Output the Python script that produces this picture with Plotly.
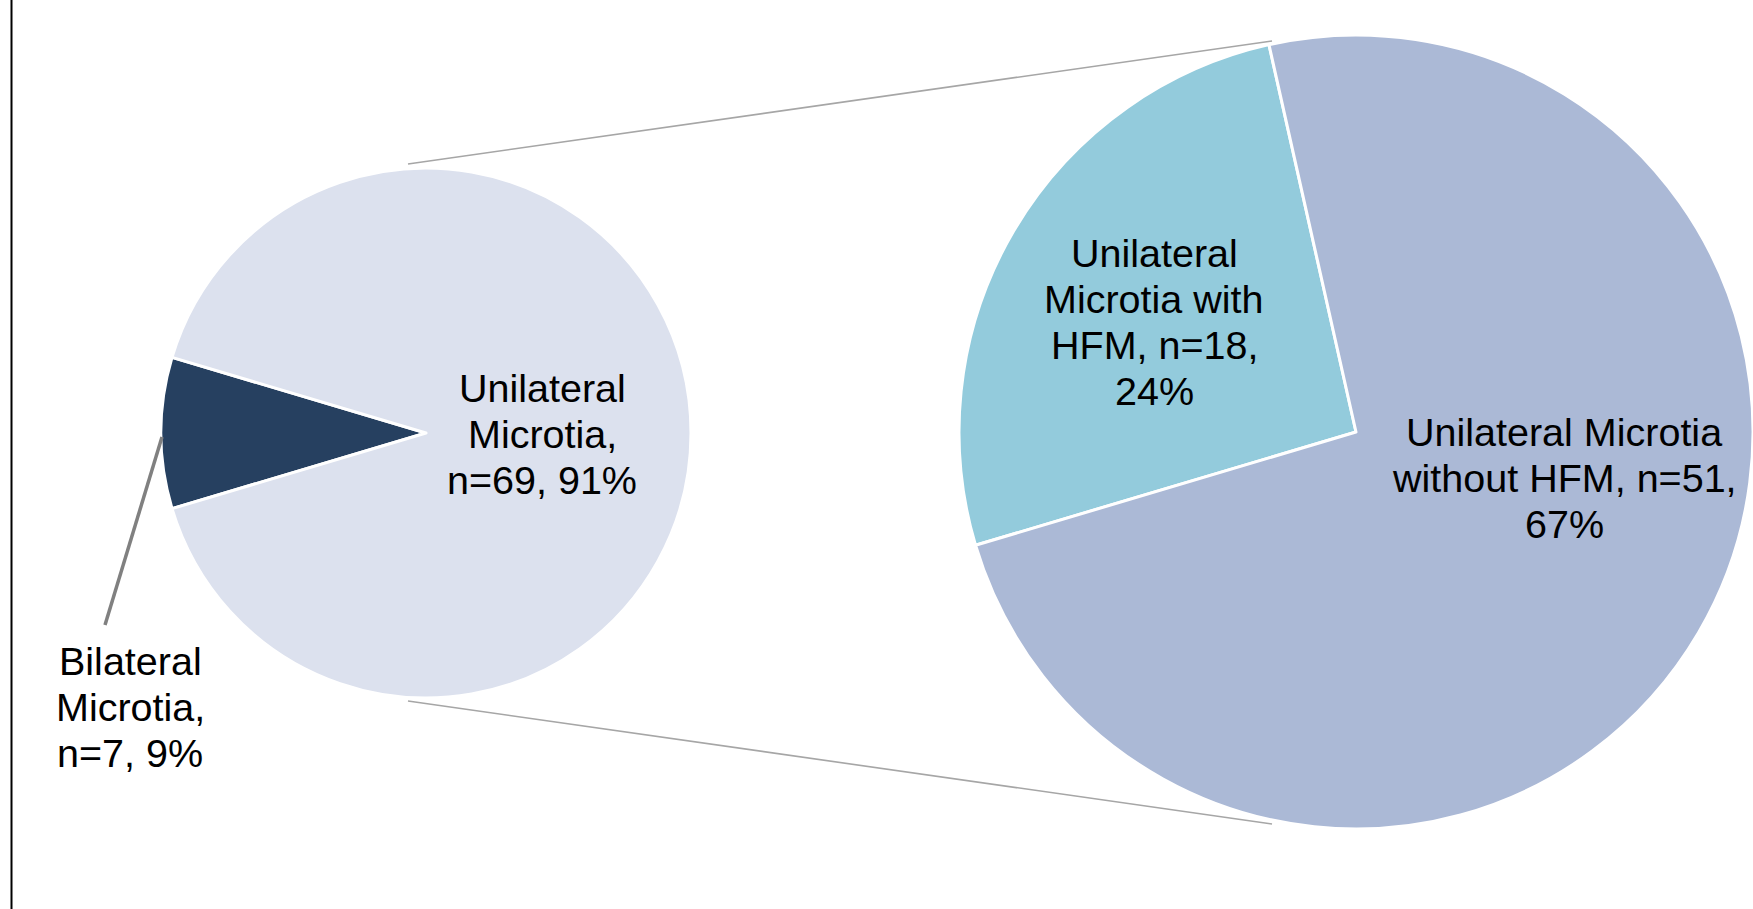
import plotly.graph_objects as go

# ---- data ----
main_labels = ["Bilateral Microtia", "Unilateral Microtia"]
main_counts = [7, 69]
main_colors = ["#264060", "#DCE1EE"]

sub_labels = ["Unilateral Microtia with HFM", "Unilateral Microtia without HFM"]
sub_counts = [18, 51]
sub_colors = ["#93CBDC", "#ABB9D6"]

total = sum(main_counts)

# text lines for each data label (value parts are filled from the counts)
main_label_lines = [["Bilateral", "Microtia,", "n={n}, {p}%"],
                    ["Unilateral", "Microtia,", "n={n}, {p}%"]]
sub_label_lines = [["Unilateral", "Microtia with", "HFM, n={n},", "{p}%"],
                   ["Unilateral Microtia", "without HFM, n={n},", "{p}%"]]

# ---- canvas ----
W, H = 1753, 909
FONT = "Liberation Sans, Arial, sans-serif"
FS = 39.5
LINE_H = 46


def px(x):
    return x / W


def py(y):
    return (H - y) / H


# slice of the breakout starts at the same angle for both pies
start_angle = 270 - (main_counts[0] / total) * 360 / 2

fig = go.Figure()

fig.add_trace(go.Pie(
    labels=main_labels, values=main_counts, sort=False,
    direction="clockwise", rotation=start_angle,
    marker=dict(colors=main_colors, line=dict(color="white", width=3)),
    textinfo="none", hoverinfo="label+value+percent",
    domain=dict(x=[px(161), px(691)], y=[py(698), py(168)]),
    showlegend=False,
))

fig.add_trace(go.Pie(
    labels=sub_labels, values=sub_counts, sort=False,
    direction="clockwise", rotation=start_angle,
    marker=dict(colors=sub_colors, line=dict(color="white", width=3)),
    textinfo="none", hoverinfo="label+value",
    domain=dict(x=[px(959), 1.0], y=[py(829), py(35)]),
    showlegend=False,
))

# ---- data labels ----
annotations = []


def add_label(lines, n, cx, first_mid):
    p = round(n / total * 100)
    for i, line in enumerate(lines):
        annotations.append(dict(
            text=line.format(n=n, p=p), x=px(cx), y=py(first_mid + i * LINE_H),
            xref="paper", yref="paper", xanchor="center", yanchor="middle",
            showarrow=False, font=dict(family=FONT, size=FS, color="#000000"),
        ))


add_label(main_label_lines[0], main_counts[0], 130, 661)
add_label(main_label_lines[1], main_counts[1], 542, 388)
add_label(sub_label_lines[0], sub_counts[0], 1154, 253)
add_label(sub_label_lines[1], sub_counts[1], 1564, 432)

# ---- connector and frame lines ----
shapes = [
    # left frame edge
    dict(type="line", xref="paper", yref="paper",
         x0=px(11.5), x1=px(11.5), y0=0, y1=1,
         line=dict(color="#000000", width=2)),
    # pie-of-pie connectors
    dict(type="line", xref="paper", yref="paper",
         x0=px(408), y0=py(164), x1=px(1272), y1=py(41),
         line=dict(color="#A6A6A6", width=1.6)),
    dict(type="line", xref="paper", yref="paper",
         x0=px(408), y0=py(701), x1=px(1272), y1=py(824),
         line=dict(color="#A6A6A6", width=1.6)),
    # leader line for the small slice label
    dict(type="line", xref="paper", yref="paper",
         x0=px(162), y0=py(437), x1=px(105), y1=py(625),
         line=dict(color="#808080", width=3.5)),
]

fig.update_layout(
    width=W, height=H, autosize=False,
    margin=dict(l=0, r=0, t=0, b=0),
    paper_bgcolor="white", plot_bgcolor="white",
    annotations=annotations, shapes=shapes,
)

fig.write_html("out.html")
